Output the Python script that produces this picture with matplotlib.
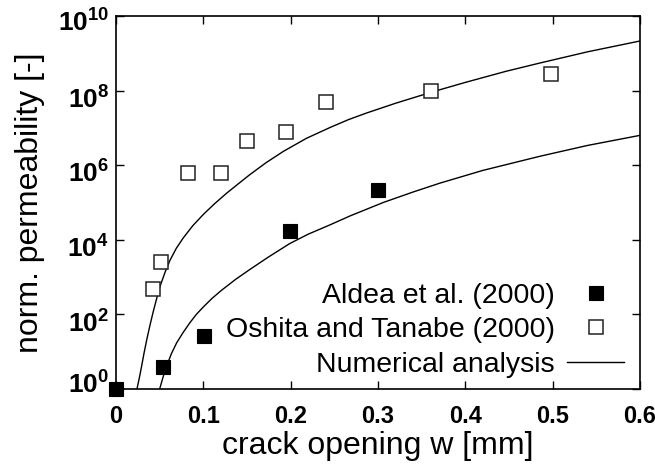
import matplotlib
matplotlib.use("Agg")
import matplotlib.pyplot as plt
from matplotlib.transforms import ScaledTranslation
import numpy as np

plt.rcParams['font.family'] = ['Liberation Sans', 'DejaVu Sans']
plt.rcParams['mathtext.fontset'] = 'custom'
plt.rcParams['mathtext.rm'] = 'Liberation Sans:bold'
plt.rcParams['mathtext.bf'] = 'Liberation Sans:bold'
plt.rcParams['mathtext.it'] = 'Liberation Sans:bold'

# Data
aldea_w = [0.0, 0.054, 0.101, 0.199, 0.300]
aldea_k = [1.0, 4.0, 26.0, 1.7e4, 2.2e5]

oshita_w = [0.042, 0.051, 0.082, 0.120, 0.150, 0.195, 0.2405, 0.361, 0.498]
oshita_k = [470.0, 2600.0, 6.3e5, 6.3e5, 4.5e6, 7.8e6, 4.8e7, 9.8e7, 2.8e8]

# Numerical analysis curves (w, log10 k)
upper_w = [0.024, 0.027, 0.0294, 0.032, 0.0351, 0.039, 0.0427, 0.0465, 0.0504,
           0.056, 0.0618, 0.069, 0.077, 0.088, 0.100, 0.113, 0.1267, 0.140,
           0.1534, 0.172, 0.1916, 0.218, 0.245, 0.266, 0.287, 0.320, 0.3615,
           0.400, 0.447, 0.4855, 0.540, 0.600]
upper_logk = [0.0, 0.33, 0.62, 0.95, 1.31, 1.72, 2.08, 2.42, 2.75,
              3.12, 3.45, 3.77, 4.05, 4.38, 4.68, 4.97, 5.25, 5.50,
              5.75, 6.07, 6.37, 6.72, 7.01, 7.22, 7.40, 7.66, 7.96,
              8.22, 8.52, 8.74, 9.04, 9.33]

lower_w = [0.050, 0.054, 0.058, 0.0635, 0.0695, 0.077, 0.0847, 0.092, 0.100,
           0.110, 0.121, 0.137, 0.153, 0.174, 0.199, 0.220, 0.245, 0.268,
           0.306, 0.340, 0.371, 0.420, 0.4855, 0.540, 0.600]
lower_logk = [0.0, 0.33, 0.62, 0.95, 1.24, 1.52, 1.78, 2.00, 2.20,
              2.43, 2.65, 2.94, 3.20, 3.53, 3.90, 4.15, 4.40, 4.64,
              5.00, 5.28, 5.52, 5.86, 6.24, 6.53, 6.80]

xticks = [0, 0.1, 0.2, 0.3, 0.4, 0.5, 0.6]
xtick_labels = ["0", "0.1", "0.2", "0.3", "0.4", "0.5", "0.6"]
ytick_exps = [0, 2, 4, 6, 8, 10]

fig = plt.figure(figsize=(6.55, 4.68), dpi=100)
ax = fig.add_axes([116/655, (468-389)/468, (640-116)/655, (389-16)/468])

ax.plot(upper_w, np.power(10.0, upper_logk), color='black', lw=1.0,
        label='Numerical analysis')
ax.plot(lower_w, np.power(10.0, lower_logk), color='black', lw=1.0)

ax.plot(aldea_w, aldea_k, linestyle='none', marker='s', markersize=10,
        markerfacecolor='black', markeredgecolor='black', markeredgewidth=0.8,
        clip_on=False, zorder=5, label='Aldea et al. (2000)')
ax.plot(oshita_w, oshita_k, linestyle='none', marker='s', markersize=10,
        markerfacecolor='white', markeredgecolor='#222222', markeredgewidth=1.1,
        clip_on=False, zorder=5, label='Oshita and Tanabe (2000)')

ax.set_yscale('log')
ax.set_xlim(0, 0.6)
ax.set_ylim(1, 1e10)

ax.set_xticks(xticks)
ax.set_xticklabels(xtick_labels, fontsize=17, fontweight='bold')
ax.set_yticks([10.0**e for e in ytick_exps])
ax.set_yticklabels([r"$\mathbf{10^{%d}}$" % e for e in ytick_exps], fontsize=19)
ax.yaxis.set_minor_locator(matplotlib.ticker.NullLocator())

ax.tick_params(axis='both', which='major', direction='in', length=6, width=1.0,
               top=True, right=True)
ax.tick_params(axis='x', pad=11.5)
ax.tick_params(axis='y', pad=5)
ylab_shift_pt = {0: 4.5, 10: -3.0}
for e, lab in zip(ytick_exps, ax.get_yticklabels()):
    dy = ylab_shift_pt.get(e, -4.8)
    lab.set_transform(lab.get_transform() +
                      ScaledTranslation(0, dy/72, fig.dpi_scale_trans))
for s in ax.spines.values():
    s.set_linewidth(1.2)

ax.set_xlabel('crack opening w [mm]', fontsize=23, labelpad=2)
ax.set_ylabel('norm. permeability [-]', fontsize=23, labelpad=9)

h, l = ax.get_legend_handles_labels()
order = [1, 2, 0]
leg = ax.legend([h[i] for i in order], [l[i] for i in order],
                loc='lower right', bbox_to_anchor=(0.97, 0.03),
                frameon=False, markerfirst=False, fontsize=20.5,
                handlelength=2.0, handletextpad=0.45, labelspacing=0.3,
                borderpad=0, borderaxespad=0, numpoints=1)

fig.savefig('out.png', dpi=100)
